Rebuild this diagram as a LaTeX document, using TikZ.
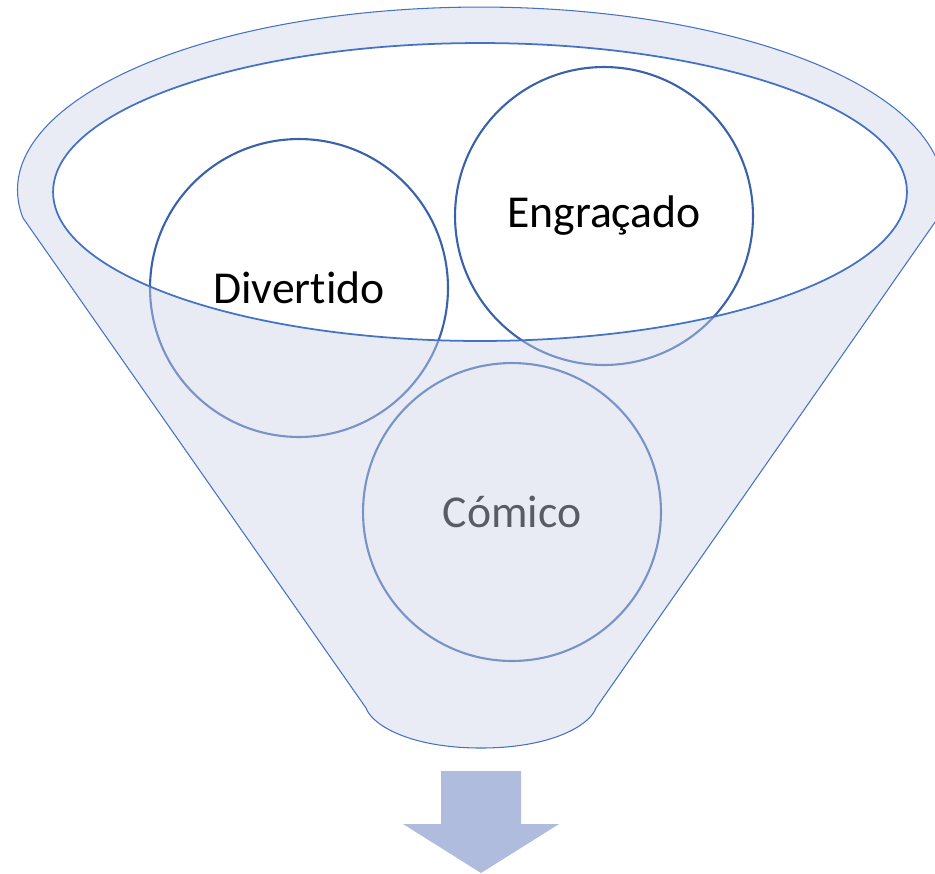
\documentclass[tikz,border=0pt]{standalone}
\usepackage{fontspec}
\setmainfont{Carlito}[Ligatures=NoCommon]
\usepackage{xcolor}
\usepackage{tikz}
\definecolor{funnelblue}{RGB}{68,114,196}
\definecolor{ringblue}{RGB}{58,98,172}
\definecolor{funnelfill}{RGB}{204,211,232}
\definecolor{arrowfill}{RGB}{176,188,222}

\begin{document}
\begin{tikzpicture}[x=0.02cm,y=-0.02cm,
    bubble/.style={circle,draw=ringblue,line width=1.2pt,fill=white,minimum size=5.96cm,inner sep=0pt,font=\fontsize{26}{30}\selectfont}]
    \useasboundingbox (0,0) rectangle (935,873);
    \clip (0,0) rectangle (935,873);

    % Circles inside the funnel
    \node[bubble] (divertido) at (299,288) {Divertido};
    \node[bubble] (engracado) at (604,216) {Engraçado};
    \node[bubble] (comico) at (512,512) {Cómico};

    % Funnel body, rim cut out
    \fill[funnelfill,fill opacity=0.44,even odd rule]
      (23,218) arc[start angle=188.8,end angle=-8.8,x radius=9.26cm,y radius=3.66cm]
      -- (596,708) .. controls (590,725) and (552,748) .. (481,748)
      .. controls (410,748) and (372,725) .. (366,708) -- cycle
      (480,192) ellipse [x radius=8.54cm,y radius=2.98cm];
    \draw[funnelblue,line width=0.6pt]
      (23,218) arc[start angle=188.8,end angle=-8.8,x radius=9.26cm,y radius=3.66cm]
      -- (596,708) .. controls (590,725) and (552,748) .. (481,748)
      .. controls (410,748) and (372,725) .. (366,708) -- cycle;
    \draw[funnelblue,line width=1pt] (480,192) ellipse [x radius=8.54cm,y radius=2.98cm];

    % Arrow below
    \fill[arrowfill] (441,771) -- (521,771) -- (521,824) -- (559,824) -- (481,873) -- (403,824) -- (441,824) -- cycle;
\end{tikzpicture}
\end{document}
